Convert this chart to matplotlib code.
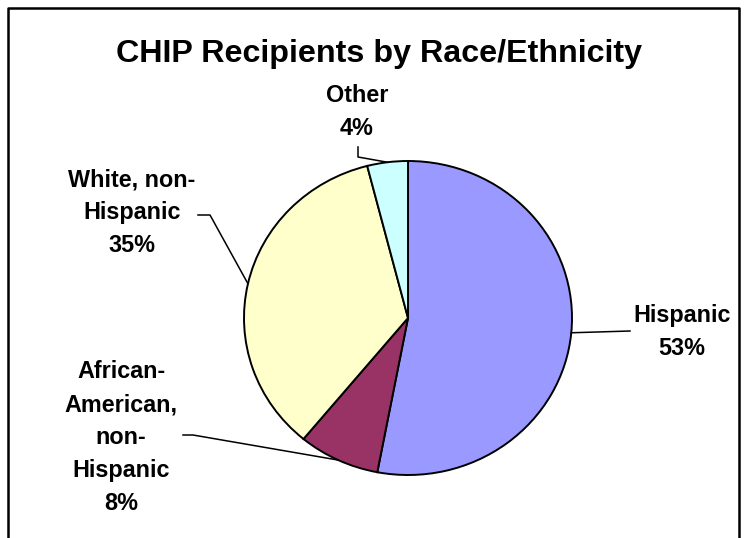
import matplotlib
matplotlib.use("Agg")
import matplotlib.pyplot as plt
import numpy as np
from matplotlib.lines import Line2D

plt.rcParams["font.family"] = ["Liberation Sans", "DejaVu Sans"]

W, H = 746, 538

title = "CHIP Recipients by Race/Ethnicity"
groups = ["Hispanic", "African-American, non-Hispanic", "White, non-Hispanic", "Other"]
shares = [53, 8, 35, 4]
colors = ["#9999FF", "#993366", "#FFFFCC", "#CCFFFF"]
# label lines as wrapped in the chart
label_lines = [
    ["Hispanic"],
    ["African-", "American,", "non-", "Hispanic"],
    ["White, non-", "Hispanic"],
    ["Other"],
]


def px(x, y):
    """pixel position (top-left origin) -> figure fraction"""
    return x / W, 1 - y / H


fig = plt.figure(figsize=(W / 100, H / 100), dpi=100)

# outer frame (bottom edge runs off the canvas)
fig.add_artist(Line2D([8 / W, 8 / W, 739 / W, 739 / W],
                      [0, 1 - 8 / H, 1 - 8 / H, 0],
                      transform=fig.transFigure, color="black", lw=1.8))

fig.text(*px(379, 54), title, ha="center", va="center",
         fontsize=23.2, fontweight="bold")

# pie axes: centre (408, 318), radii 164 x 157
cx, cy, rx, ry = 408, 318, 164, 157
ax = fig.add_axes([(cx - rx) / W, 1 - (cy + ry) / H, 2 * rx / W, 2 * ry / H])
wedges, _ = ax.pie(shares, colors=colors, startangle=90, counterclock=False,
                   wedgeprops=dict(edgecolor="black", linewidth=1.4))
ax.set_aspect("auto")
ax.set_xlim(-1, 1)
ax.set_ylim(-1, 1)
ax.axis("off")

# label block centres, leader start/kink points (pixels)
label_pos = [(682, 332), (121, 438), (132, 213), (357, 112)]
leaders = [
    [(630, 331)],
    [(183, 435), (193, 435)],
    [(198, 215), (210, 215)],
    [(358, 147), (358, 157)],
]
step = 33

for w, lines, share, (lx, ly), pts in zip(wedges, label_lines, shares,
                                          label_pos, leaders):
    rows = lines + [f"{share}%"]
    y0 = ly - step * (len(rows) - 1) / 2
    for i, row in enumerate(rows):
        fig.text(*px(lx, y0 + i * step), row, ha="center", va="center",
                 fontsize=16.8, fontweight="bold")
    mid = np.deg2rad((w.theta1 + w.theta2) / 2)
    ex, ey = ax.transData.transform((np.cos(mid), np.sin(mid)))
    xs = [p[0] / W for p in pts] + [ex / W]
    ys = [1 - p[1] / H for p in pts] + [ey / H]
    fig.add_artist(Line2D(xs, ys, transform=fig.transFigure,
                          color="black", lw=1.1))

fig.savefig("out.png", dpi=100)
